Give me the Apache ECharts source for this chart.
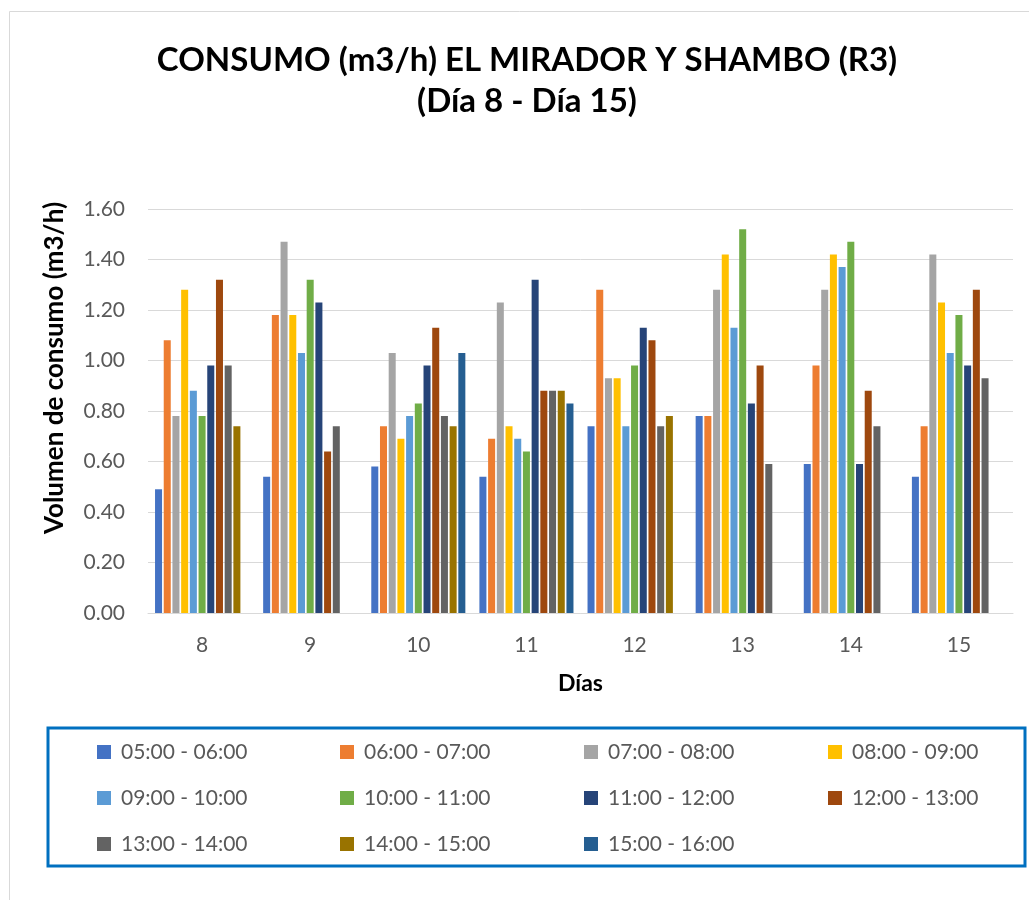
<!DOCTYPE html>
<html>
<head>
<meta charset="utf-8">
<script src="https://cdn.jsdelivr.net/npm/echarts@6/dist/echarts.min.js"></script>
<style>
  html, body { margin: 0; padding: 0; background: #fff; }
  #chart { width: 1029px; height: 900px; }
</style>
</head>
<body>
<div id="chart"></div>
<script>
// días
const dias = ['8', '9', '10', '11', '12', '13', '14', '15']
const horas = ['05:00 - 06:00', '06:00 - 07:00', '07:00 - 08:00', '08:00 - 09:00',
  '09:00 - 10:00', '10:00 - 11:00', '11:00 - 12:00', '12:00 - 13:00',
  '13:00 - 14:00', '14:00 - 15:00', '15:00 - 16:00']
const colores = ['#4472C4', '#ED7D31', '#A5A5A5', '#FFC000', '#5B9BD5', '#70AD47',
  '#264478', '#9E480E', '#636363', '#997300', '#255E91']
const yTicks = [0, 0.2, 0.4, 0.6, 0.8, 1.0, 1.2, 1.4, 1.6]

// consumo por franja horaria (m3/h), un valor por día 8..15
const h05 = [0.49, 0.54, 0.58, 0.54, 0.74, 0.78, 0.59, 0.54]
const h06 = [1.08, 1.18, 0.74, 0.69, 1.28, 0.78, 0.98, 0.74]
const h07 = [0.78, 1.47, 1.03, 1.23, 0.93, 1.28, 1.28, 1.42]
const h08 = [1.28, 1.18, 0.69, 0.74, 0.93, 1.42, 1.42, 1.23]
const h09 = [0.88, 1.03, 0.78, 0.69, 0.74, 1.13, 1.37, 1.03]
const h10 = [0.78, 1.32, 0.83, 0.64, 0.98, 1.52, 1.47, 1.18]
const h11 = [0.98, 1.23, 0.98, 1.32, 1.13, 0.83, 0.59, 0.98]
const h12 = [1.32, 0.64, 1.13, 0.88, 1.08, 0.98, 0.88, 1.28]
const h13 = [0.98, 0.74, 0.78, 0.88, 0.74, 0.59, 0.74, 0.93]
const h14 = [0.74, null, 0.74, 0.88, 0.78, null, null, null]
const h15 = [null, null, 1.03, 0.83, null, null, null, null]
const valores = [h05, h06, h07, h08, h09, h10, h11, h12, h13, h14, h15]

const fuente = 'Lato, "Open Sans", sans-serif'
const gris = '#595959'

const chart = echarts.init(document.getElementById('chart'))

// leyenda en 4 columnas, como en Excel
const colX = [97, 340, 584, 828]
const legends = colX.map((x, c) => ({
  orient: 'vertical',
  left: x - 5,
  top: 735,
  itemWidth: 14,
  itemHeight: 14,
  itemGap: 22,
  icon: 'rect',
  data: horas.filter((h, i) => i % 4 === c),
  textStyle: { color: gris, fontSize: 21, fontFamily: fuente, lineHeight: 24, padding: [0, 0, 0, 5] }
}))

const option = {
  animation: false,
  color: colores,
  legend: legends,
  grid: { left: 148, right: 16, top: 209, bottom: 287 },
  xAxis: {
    type: 'category',
    data: dias,
    name: 'Días',
    nameLocation: 'middle',
    nameGap: 59,
    nameTextStyle: { color: '#000', fontSize: 23, fontWeight: 'bold', fontFamily: fuente },
    axisLine: { lineStyle: { color: '#D9D9D9' } },
    axisTick: { show: false },
    axisLabel: { color: gris, fontSize: 21, fontFamily: fuente, margin: 22 }
  },
  yAxis: {
    type: 'value',
    min: yTicks[0],
    max: yTicks[yTicks.length - 1],
    interval: 0.2,
    axisLine: { show: false },
    axisTick: { show: false },
    splitLine: { lineStyle: { color: '#D9D9D9', width: 1 } },
    axisLabel: { color: gris, fontSize: 21, fontFamily: fuente, margin: 23, formatter: v => v.toFixed(2) }
  },
  series: horas.map((h, i) => ({
    name: h,
    type: 'bar',
    data: valores[i],
    barGap: '24%',
    barCategoryGap: '13%'
  })),
  graphic: [
    {
      type: 'rect', silent: true,
      shape: { x: 9.5, y: 11.5, width: 1040, height: 900 },
      style: { fill: null, stroke: '#D9D9D9', lineWidth: 1 }
    },
    {
      type: 'text', x: 527, y: 60,
      style: {
        text: 'CONSUMO (m3/h) EL MIRADOR Y SHAMBO (R3)', fill: '#000',
        font: 'bold 33px ' + fuente, textAlign: 'center', textVerticalAlign: 'middle'
      }
    },
    {
      type: 'text', x: 527, y: 101,
      style: {
        text: '(Día 8 - Día 15)', fill: '#000',
        font: 'bold 33px ' + fuente, textAlign: 'center', textVerticalAlign: 'middle'
      }
    },
    {
      type: 'text', x: 55, y: 368, rotation: Math.PI / 2,
      style: {
        text: 'Volumen de consumo (m3/h)', fill: '#000',
        font: 'bold 26px ' + fuente, textAlign: 'center', textVerticalAlign: 'middle'
      }
    },
    {
      type: 'rect', silent: true,
      shape: { x: 48, y: 728, width: 977, height: 138 },
      style: { fill: null, stroke: '#0070C0', lineWidth: 3 }
    }
  ]
}

chart.setOption(option)
</script>
</body>
</html>
